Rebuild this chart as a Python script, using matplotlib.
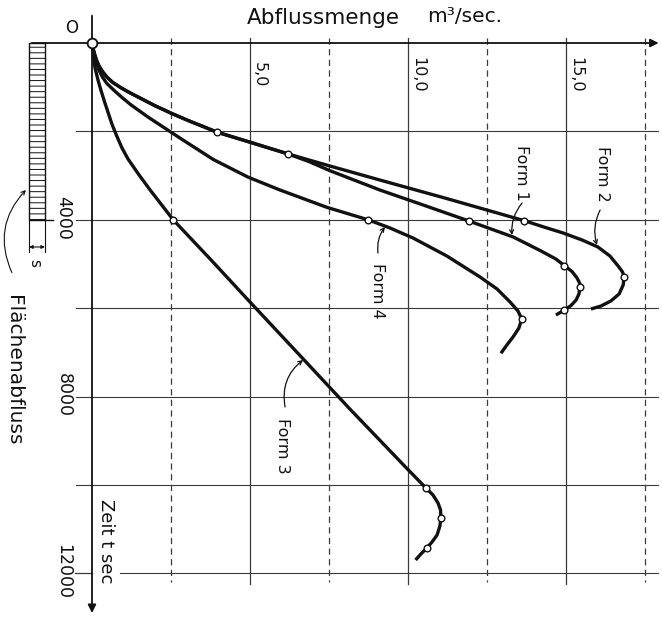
import matplotlib.pyplot as plt
from matplotlib.patches import Rectangle

# Abflussmenge Q [m3/sec] ueber Zeit t [sec]
form1_q = [0, 0.03, 0.08, 0.14, 0.22, 0.33, 0.47, 0.66, 0.93, 1.20, 1.46, 1.98, 2.51, 3.04,
           3.57, 3.97, 4.95, 6.21,
           6.90, 7.53, 9.11, 10.48, 11.94, 13.33, 14.18, 14.68, 14.95, 15.19, 15.35, 15.43,
           15.44, 15.41, 15.32, 15.16, 14.95, 14.68]
form1_t = [0, 113, 249, 385, 520, 645, 769, 894, 1018, 1127, 1222, 1414, 1590, 1753,
           1905, 2020, 2233, 2511,
           2692, 2889, 3326, 3665, 4030, 4389, 4694, 4887, 5038, 5170, 5317, 5430,
           5527, 5679, 5814, 5939, 6041, 6154]

form2_q = [0, 0.03, 0.08, 0.14, 0.22, 0.33, 0.47, 0.66, 0.93, 1.20, 1.46, 1.98, 2.51, 3.04,
           3.57, 3.97, 4.95, 6.21,
           7.53, 9.11, 11.22, 13.68, 14.30, 14.91, 15.51, 16.01, 16.39, 16.65, 16.79, 16.84,
           16.81, 16.68, 16.42, 16.11, 15.79]
form2_t = [0, 113, 249, 385, 520, 645, 769, 894, 1018, 1127, 1222, 1414, 1590, 1753,
           1905, 2020, 2233, 2511,
           2783, 3100, 3518, 4020, 4163, 4299, 4457, 4615, 4819, 5045, 5181, 5294,
           5475, 5679, 5837, 5950, 6018]

form3_q = [0, 0.05, 0.09, 0.19, 0.29, 0.40, 0.51, 0.63, 0.77, 0.95, 1.14, 1.49, 1.84, 2.57,
           3.77, 5.00, 6.64, 8.16, 9.96, 10.57, 10.79, 10.95, 11.03, 11.04, 11.01, 10.92,
           10.76, 10.59, 10.41, 10.24]
form3_t = [0, 271, 543, 837, 1086, 1335, 1573, 1833, 2081, 2376, 2624, 2986, 3326, 4000,
           4910, 5860, 7115, 8280, 9622, 10070, 10226, 10407, 10566, 10740, 10928, 11131,
           11290, 11430, 11561, 11697]

form4_q = [0, 0.03, 0.08, 0.14, 0.22, 0.33, 0.47, 0.72, 0.95, 1.24, 1.77, 2.30, 2.78, 3.84,
           4.95, 5.95, 7.43, 8.74, 9.43, 10.16, 11.23, 12.28, 12.82, 13.23, 13.48, 13.60,
           13.51, 13.33, 13.13, 12.94]
form4_t = [0, 136, 294, 452, 611, 769, 916, 1086, 1233, 1403, 1674, 1923, 2149, 2636,
           3038, 3326, 3717, 4000, 4185, 4412, 4819, 5294, 5566, 5860, 6063, 6244,
           6448, 6645, 6832, 7020]

# markierte Punkte auf den Kurven
mark_q = [3.97, 6.21, 11.94, 14.95, 15.44, 14.95, 13.68, 16.84, 2.57, 10.57, 11.04, 10.59, 8.74, 13.60]
mark_t = [2020, 2511, 4030, 5038, 5527, 6041, 4020, 5294, 4000, 10070, 10740, 11430, 4000, 6244]

q_solid = [5, 10, 15]
q_dashed = [2.5, 7.5, 12.5, 17.5]
q_labels = ['5,0', '10,0', '15,0']
t_lines = [2000, 4000, 6000, 8000, 10000, 12000]
t_ticks = [4000, 8000, 12000]
t_labels = ['4000', '8000', '12000']
rain_t = 4000  # Dauer des Flaechenabflusses

plt.rcParams['font.family'] = ['DejaVu Sans']
plt.rcParams['hatch.linewidth'] = 0.7
fig = plt.figure(figsize=(6.62, 6.21), dpi=100)
ax = fig.add_axes([0, 0, 1, 1])
ax.set_xlim(-2.911, 18.038)
ax.set_ylim(13077, -973)
ax.axis('off')

ink = '#111111'
grid = '#3a3a3a'

# Netz
for q in q_solid:
    ax.plot([q, q], [-110, 12250], color=grid, lw=0.9)
for q in q_dashed:
    ax.plot([q, q], [-110, 12200], color=grid, lw=0.9, dashes=(5, 3.5))
for t in t_lines:
    if t == 12000:
        ax.plot([-0.55, 0], [t, t], color=grid, lw=0.9)
        ax.plot([0.9, 17.9], [t, t], color=grid, lw=0.8)
    else:
        ax.plot([-0.5, 17.9], [t, t], color=grid, lw=0.8)

# Achsen
ax.annotate('', xy=(18.02, 0), xytext=(-1.99, 0),
            arrowprops=dict(arrowstyle='-|>', color=ink, lw=1.3, mutation_scale=12))
ax.annotate('', xy=(0, 12960), xytext=(0, -680),
            arrowprops=dict(arrowstyle='-|>', color=ink, lw=1.3, mutation_scale=12))

# Kurven
for q, t in [(form1_q, form1_t), (form2_q, form2_t), (form3_q, form3_t), (form4_q, form4_t)]:
    ax.plot(q, t, color=ink, lw=2.4, solid_capstyle='butt', solid_joinstyle='round')
ax.plot(mark_q, mark_t, 'o', ms=4.8, mfc='white', mec=ink, mew=1.0, zorder=5)
ax.plot([0], [0], 'o', ms=7, mfc='white', mec=ink, mew=1.3, zorder=6)

# Flaechenabfluss-Balken
bar = Rectangle((-1.99, 0), 0.5, rain_t, facecolor='none', edgecolor=ink, lw=1.0, hatch='---')
ax.add_patch(bar)
ax.plot([-1.49, -1.23], [rain_t, rain_t], color=ink, lw=1.0)
ax.plot([-1.99, -1.99], [rain_t, 4730], color=ink, lw=0.8)
ax.plot([-1.49, -1.49], [rain_t, 4730], color=ink, lw=0.8)
ax.annotate('', xy=(-1.49, 4615), xytext=(-1.99, 4615),
            arrowprops=dict(arrowstyle='<|-|>', color=ink, lw=0.8, mutation_scale=5,
                            shrinkA=0, shrinkB=0))
ax.text(-1.80, 4977, 's', rotation=270, ha='center', va='center', fontsize=11, color=ink)
ax.text(-2.47, 7400, 'Flächenabfluss', rotation=270, ha='center', va='center',
        fontsize=14.5, color=ink)
ax.annotate('', xy=(-2.03, 3280), xytext=(-2.5, 5250),
            arrowprops=dict(arrowstyle='->', color=ink, lw=0.8, mutation_scale=7,
                            connectionstyle='arc3,rad=-0.35'))

# Beschriftung
ax.text(-0.63, -339, 'O', ha='center', va='center', fontsize=12, color=ink)
for q, lab in zip(q_solid, q_labels):
    ax.text(q + 0.3, 720, lab, rotation=270, ha='center', va='center', fontsize=11.5, color=ink)
for t, lab in zip(t_ticks, t_labels):
    ax.text(-0.9, t - 40, lab, rotation=270, ha='center', va='center', fontsize=12.5, color=ink)
ax.text(7.31, -566, 'Abflussmenge', ha='center', va='center', fontsize=15.5, color=ink)
ax.text(11.8, -600, 'm³/sec.', ha='center', va='center', fontsize=14.5, color=ink)
ax.text(0.44, 11267, 'Zeit t sec', rotation=270, ha='center', va='center', fontsize=13, color=ink)

# Kurvenbezeichnungen
labels = [('Form 1', 13.58, 2930, 13.61, 3620, 13.29, 4344, 0.2),
          ('Form 2', 16.17, 2970, 16.08, 3778, 15.98, 4570, 0.2),
          ('Form 4', 9.05, 5611, 9.05, 4751, 9.27, 4163, -0.2),
          ('Form 3', 6.04, 9117, 6.11, 8235, 6.68, 7172, -0.3)]
for name, tx, ty, ax0, ay0, ax1, ay1, rad in labels:
    ax.text(tx, ty, name, rotation=270, ha='center', va='center', fontsize=11.5, color=ink)
    ax.annotate('', xy=(ax1, ay1), xytext=(ax0, ay0),
                arrowprops=dict(arrowstyle='->', color=ink, lw=0.9, mutation_scale=7,
                                shrinkA=0, shrinkB=0,
                                connectionstyle='arc3,rad=%s' % rad))

fig.savefig('out.png', dpi=100, facecolor='white')
